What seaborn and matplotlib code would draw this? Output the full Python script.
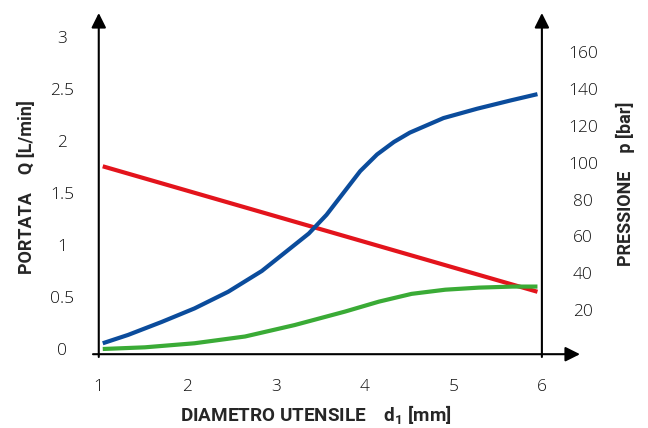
import matplotlib
matplotlib.use("Agg")
import matplotlib.pyplot as plt
import seaborn as sns
import pandas as pd

# dati
diametro_blu = [1.045, 1.33, 1.71, 2.08, 2.46, 2.84, 3.12, 3.37, 3.57, 3.76,
                3.95, 4.14, 4.33, 4.51, 4.89, 5.27, 5.65, 5.95]
portata_blu = [0.055, 0.135, 0.26, 0.39, 0.55, 0.75, 0.94, 1.11, 1.29, 1.50,
               1.71, 1.87, 1.99, 2.08, 2.22, 2.31, 2.39, 2.45]

diametro_verde = [1.045, 1.52, 2.08, 2.65, 3.21, 3.78, 4.16, 4.53, 4.91, 5.29, 5.67, 5.95]
portata_verde = [0.0, 0.016, 0.055, 0.12, 0.23, 0.36, 0.455, 0.53, 0.57, 0.59, 0.60, 0.60]

diametro_p = [1.045, 5.95]
pressione = [98, 30]

x_ticks = [1, 2, 3, 4, 5, 6]
q_ticks = [0, 0.5, 1, 1.5, 2, 2.5, 3]
q_labels = ["0", "0.5", "1", "1.5", "2", "2.5", "3"]
p_ticks = [20, 40, 60, 80, 100, 120, 140, 160]

BLU = "#0b4c9c"
ROSSO = "#e3141c"
VERDE = "#3aab36"

sns.set_style("white")
plt.rcParams["font.family"] = ["Open Sans", "DejaVu Sans"]
plt.rcParams["mathtext.default"] = "regular"

fig = plt.figure(figsize=(6.48, 4.28), dpi=100)
ax = fig.add_axes([93 / 648, 1 - 357 / 428, (580 - 93) / 648, (357 - 13) / 428])

df_blu = pd.DataFrame({"d": diametro_blu, "Q": portata_blu})
df_verde = pd.DataFrame({"d": diametro_verde, "Q": portata_verde})
df_rosso = pd.DataFrame({"d": diametro_p, "p": pressione})

ax.set_xlim(0.935, 6.43)
ax.set_ylim(-0.077, 3.23)

ax2 = ax.twinx()
# scala destra: 0 bar allineato circa con 0 L/min
px_q = 104.0
px_p = 1.845
ax2.set_ylim(-0.077 * px_q / px_p - 1.0, (3.23 * px_q) / px_p - 1.0)

sns.lineplot(data=df_rosso, x="d", y="p", ax=ax2, color=ROSSO, lw=3.0)

# le curve blu/verde sopra la rossa
ax.set_zorder(ax2.get_zorder() + 1)
ax.patch.set_visible(False)
sns.lineplot(data=df_blu, x="d", y="Q", ax=ax, color=BLU, lw=3.0)
sns.lineplot(data=df_verde, x="d", y="Q", ax=ax, color=VERDE, lw=3.0)
for ln in ax.get_lines() + ax2.get_lines():
    ln.set_solid_capstyle("butt")
    ln.set_solid_joinstyle("round")

for a in (ax, ax2):
    for s in a.spines.values():
        s.set_visible(False)

# assi con frecce
y0 = -0.05
ax.annotate("", xy=(6.43, y0), xytext=(0.935, y0),
            arrowprops=dict(arrowstyle="-|>", color="black", lw=1.5,
                            mutation_scale=22, shrinkA=0, shrinkB=0),
            annotation_clip=False)
for xv in (1, 6):
    ax.annotate("", xy=(xv, 3.23), xytext=(xv, -0.077),
                arrowprops=dict(arrowstyle="-|>", color="black", lw=1.5,
                                mutation_scale=22, shrinkA=0, shrinkB=0),
                annotation_clip=False)

ax.set_xticks(x_ticks)
ax.set_xticklabels([str(v) for v in x_ticks])
ax.set_yticks(q_ticks)
ax.set_yticklabels(q_labels)
ax2.set_yticks(p_ticks)
ax2.set_yticklabels([str(v) for v in p_ticks])

ax.tick_params(axis="x", length=0, pad=16, labelsize=12.5, colors="#111111")
ax.tick_params(axis="y", length=0, pad=22, labelsize=12.5, colors="#111111")
ax2.tick_params(axis="y", length=0, pad=2, labelsize=12.5, colors="#111111")
for t in ax.get_xticklabels() + ax.get_yticklabels() + ax2.get_yticklabels():
    t.set_fontweight("light")
for t in ax.get_yticklabels() + ax2.get_yticklabels():
    t.set_ha("center")

font_lab = ["Roboto", "DejaVu Sans"]
ax.set_xlabel("")
ax.set_ylabel("")
ax2.set_ylabel("")
fig.text(316 / 648, 1 - 415 / 428, "DIAMETRO UTENSILE    d$_{1}$ [mm]",
         ha="center", va="center", fontsize=13.6, fontweight="bold", family=font_lab)
fig.text(27 / 648, 1 - 187 / 428, "PORTATA    Q [L/min]", rotation=90,
         ha="center", va="center", fontsize=13, fontweight="bold", family=font_lab)
fig.text(625 / 648, 1 - 184 / 428, "PRESSIONE    p [bar]", rotation=90,
         ha="center", va="center", fontsize=13, fontweight="bold", family=font_lab)

fig.savefig("out.png", dpi=100)
